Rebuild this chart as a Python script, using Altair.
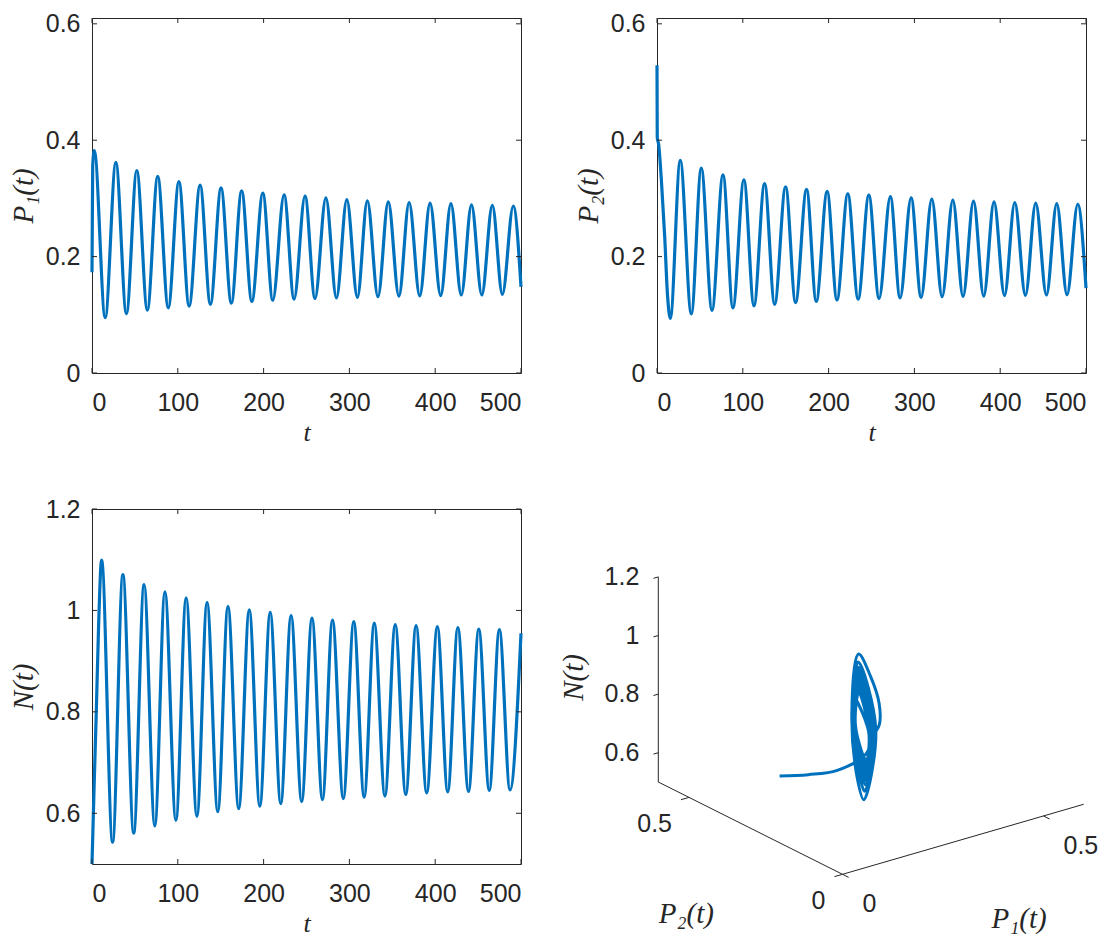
import altair as alt
import pandas as pd

# ---------------- values ----------------
t_ticks = [0, 100, 200, 300, 400, 500]
p_ticks = [0, 0.2, 0.4, 0.6]
n_ticks = [0.6, 0.8, 1.0, 1.2]

# P1(t): first points, peaks, troughs, last point
p1_head_t = [0.0, 0.8]
p1_head_v = [0.173, 0.355]
p1_peak_t = [2.7, 27.8, 52.2, 76.6, 101.3, 126.0, 150.4, 174.4, 199.1, 223.9, 248.3,
             272.6, 297.0, 320.9, 345.3, 369.6, 394.0, 418.3, 442.3, 466.6, 491.0]
p1_peak_v = [0.382, 0.362, 0.348, 0.338, 0.329, 0.323, 0.318, 0.313, 0.309, 0.306, 0.304,
             0.301, 0.298, 0.296, 0.294, 0.293, 0.292, 0.291, 0.289, 0.288, 0.287]
p1_trough_t = [15.4, 40.1, 64.5, 88.9, 113.2, 138.0, 162.4, 186.3, 210.7, 235.5,
               259.9, 284.9, 309.3, 333.3, 357.7, 382.0, 406.4, 430.4, 454.3, 478.3]
p1_trough_v = [0.095, 0.102, 0.108, 0.112, 0.115, 0.118, 0.120, 0.123, 0.125, 0.127,
               0.128, 0.129, 0.130, 0.131, 0.132, 0.1325, 0.133, 0.134, 0.134, 0.135]
p1_last = [500.0, 0.148]

# P2(t)
p2_head_t = [0.0, 0.3, 2.0, 5.0, 9.0, 12.0]
p2_head_v = [0.529, 0.405, 0.392, 0.334, 0.234, 0.140]
p2_peak_t = [27.1, 51.6, 76.9, 101.3, 125.4, 149.9, 174.3, 198.3, 222.4, 246.9,
             272.0, 296.2, 320.3, 344.8, 368.9, 392.8, 417.0, 441.4, 465.9, 490.4]
p2_peak_v = [0.3655, 0.352, 0.3405, 0.332, 0.3255, 0.320, 0.3155, 0.312, 0.308, 0.3055,
             0.303, 0.301, 0.299, 0.297, 0.2955, 0.294, 0.293, 0.292, 0.291, 0.290]
p2_trough_t = [15.5, 40.0, 64.1, 88.5, 113.0, 137.1, 161.5, 185.6, 209.7, 234.4,
               258.8, 283.3, 307.8, 332.3, 356.7, 380.8, 405.0, 429.4, 453.9, 477.9]
p2_trough_v = [0.094, 0.1015, 0.1075, 0.112, 0.1155, 0.118, 0.121, 0.123, 0.1255, 0.127,
               0.128, 0.129, 0.130, 0.131, 0.1315, 0.132, 0.133, 0.1335, 0.134, 0.1345]
p2_last = [500.0, 0.146]

# N(t)
n_head_t = [0.0, 2.5, 5.0, 7.7]
n_head_v = [0.500, 0.655, 0.800, 0.970]
n_peak_t = [11.2, 36.0, 60.7, 85.0, 109.7, 134.1, 158.5, 183.3, 207.7, 232.0,
            256.4, 280.3, 305.1, 329.0, 353.4, 377.7, 402.5, 426.4, 450.8, 474.8]
n_peak_v = [1.099, 1.0705, 1.051, 1.0365, 1.025, 1.016, 1.008, 1.001, 0.996, 0.990,
            0.985, 0.981, 0.978, 0.975, 0.972, 0.970, 0.968, 0.966, 0.963, 0.962]
n_trough_t = [24.0, 48.6, 73.2, 97.8, 122.3, 146.6, 171.0, 195.6, 220.0, 244.4,
              268.6, 292.9, 317.2, 341.4, 365.7, 390.1, 414.6, 438.8, 463.0, 487.2]
n_trough_v = [0.543, 0.561, 0.575, 0.586, 0.594, 0.603, 0.609, 0.614, 0.619, 0.623,
              0.627, 0.629, 0.632, 0.634, 0.637, 0.640, 0.642, 0.643, 0.645, 0.646]
n_last = [500.0, 0.955]

# trajectory (P1, P2, N) for the 3-D panel, in time order
phase_p1 = [0.210, 0.255, 0.300, 0.360, 0.375, 0.382, 0.320, 0.250, 0.166, 0.095, 0.176, 0.2285,
            0.362, 0.167, 0.102, 0.2398, 0.348, 0.168, 0.108, 0.2483, 0.338, 0.1685, 0.112, 0.253,
            0.329, 0.1685, 0.115, 0.2564, 0.323, 0.169, 0.118, 0.260, 0.318, 0.1695, 0.120, 0.2609,
            0.313, 0.1705, 0.123, 0.2625, 0.309, 0.171, 0.125, 0.2626, 0.306, 0.1718, 0.127, 0.2633,
            0.304, 0.172, 0.128, 0.263, 0.301, 0.172, 0.129, 0.2625, 0.298, 0.172, 0.130, 0.2628,
            0.296, 0.1723, 0.131, 0.2614, 0.294, 0.1725, 0.132, 0.2624, 0.293, 0.1726, 0.1325, 0.2617,
            0.292, 0.1728, 0.133, 0.261, 0.291, 0.1733, 0.134, 0.2596, 0.289, 0.1728, 0.134, 0.2587,
            0.288, 0.1733, 0.135, 0.2581, 0.287, 0.148]
phase_p2 = [0.480, 0.445, 0.410, 0.395, 0.390, 0.380, 0.300, 0.235, 0.165, 0.094, 0.183, 0.2298,
            0.3655, 0.1675, 0.1015, 0.2418, 0.352, 0.1686, 0.1075, 0.2496, 0.3405, 0.169, 0.112, 0.255,
            0.332, 0.1696, 0.1155, 0.2583, 0.3255, 0.170, 0.118, 0.2614, 0.320, 0.1708, 0.121, 0.263,
            0.3155, 0.171, 0.123, 0.2648, 0.312, 0.172, 0.1255, 0.2642, 0.308, 0.1723, 0.127, 0.2644,
            0.3055, 0.1724, 0.128, 0.2645, 0.303, 0.1725, 0.129, 0.2649, 0.301, 0.1728, 0.130, 0.2652,
            0.299, 0.173, 0.131, 0.2638, 0.297, 0.1729, 0.1315, 0.2643, 0.2955, 0.1729, 0.132, 0.2632,
            0.294, 0.1733, 0.133, 0.2626, 0.293, 0.1734, 0.1335, 0.2619, 0.292, 0.1735, 0.134, 0.2612,
            0.291, 0.1736, 0.1345, 0.2605, 0.290, 0.146]
phase_n = [0.500, 0.505, 0.520, 0.560, 0.620, 0.660, 0.800, 0.950, 1.099, 0.964, 0.666, 0.543,
           0.659, 1.0705, 0.943, 0.561, 0.669, 1.051, 0.932, 0.575, 0.6765, 1.0365, 0.924, 0.586,
           0.6826, 1.025, 0.917, 0.594, 0.687, 1.016, 0.913, 0.603, 0.692, 1.008, 0.908, 0.609,
           0.695, 1.001, 0.904, 0.614, 0.698, 0.996, 0.902, 0.619, 0.7006, 0.990, 0.898, 0.623,
           0.7026, 0.985, 0.8955, 0.627, 0.7049, 0.981, 0.893, 0.629, 0.7058, 0.978, 0.8915, 0.632,
           0.7075, 0.975, 0.8897, 0.634, 0.7084, 0.972, 0.8882, 0.637, 0.7103, 0.970, 0.8875, 0.640,
           0.7122, 0.968, 0.8865, 0.642, 0.7133, 0.966, 0.8852, 0.643, 0.7134, 0.963, 0.8835, 0.645,
           0.7147, 0.962, 0.883, 0.646, 0.7155, 0.955]

# 3-D box limits and ticks
P1_LIM = [0.0, 0.6]
P2_LIM = [0.0, 0.6]
N_LIM = [0.5, 1.2]
box_n_ticks = [0.6, 0.8, 1.0, 1.2]
box_n_labels = ["0.6", "0.8", "1", "1.2"]
box_p_ticks = [0.0, 0.5]
box_p_labels = ["0", "0.5"]

# ---------------- style ----------------
W, H = 429, 355
TICK = 5
BLUE = "#0072BD"
AXC = "#262626"
LFONT = "Liberation Sans"
TFONT = "Liberation Serif"
LSIZE = 25
TSIZE = 29


def series(head_t, head_v, pk_t, pk_v, tr_t, tr_v, last):
    t = list(head_t) + list(pk_t) + list(tr_t) + [last[0]]
    v = list(head_v) + list(pk_v) + list(tr_v) + [last[1]]
    return pd.DataFrame({"t": t, "v": v}).sort_values("t").reset_index(drop=True)


def ts_panel(df, ydom, yticks, ytitle):
    xs = alt.Scale(domain=[0, 500], nice=False, zero=False)
    ys = alt.Scale(domain=ydom, nice=False, zero=False)
    common = dict(ticks=False, domain=False, grid=False,
                  labelFont=LFONT, labelFontSize=LSIZE, labelColor=AXC,
                  titleFont=TFONT, titleFontStyle="italic",
                  titleFontWeight="normal", titleColor=AXC)
    xaxis = alt.Axis(values=t_ticks, format="d", title="t", labelPadding=17, titlePadding=4,
                     titleFontSize=26, **common)
    yaxis = alt.Axis(values=yticks, format="~g", title=ytitle, labelPadding=12, titlePadding=7,
                     titleFontSize=TSIZE, **common)
    xenc = alt.X("t:Q", scale=xs, axis=xaxis)
    yenc = alt.Y("v:Q", scale=ys, axis=yaxis)
    line = alt.Chart(df).mark_line(color=BLUE, strokeWidth=3.2, interpolate="monotone").encode(
        x=xenc, y=yenc)
    xt = alt.Chart(pd.DataFrame({"t": t_ticks}))
    yt = alt.Chart(pd.DataFrame({"v": yticks}))
    rule = dict(color=AXC, strokeWidth=1)
    tb = xt.mark_rule(**rule).encode(x=xenc, y=alt.value(H), y2=alt.value(H - TICK))
    tt = xt.mark_rule(**rule).encode(x=xenc, y=alt.value(0), y2=alt.value(TICK))
    tl = yt.mark_rule(**rule).encode(y=yenc, x=alt.value(0), x2=alt.value(TICK))
    tr = yt.mark_rule(**rule).encode(y=yenc, x=alt.value(W), x2=alt.value(W - TICK))
    return alt.layer(line, tb, tt, tl, tr).properties(
        width=W, height=H, view=alt.ViewBackground(stroke=AXC, strokeWidth=1))


p1_df = series(p1_head_t, p1_head_v, p1_peak_t, p1_peak_v, p1_trough_t, p1_trough_v, p1_last)
p2_df = series(p2_head_t, p2_head_v, p2_peak_t, p2_peak_v, p2_trough_t, p2_trough_v, p2_last)
n_df = series(n_head_t, n_head_v, n_peak_t, n_peak_v, n_trough_t, n_trough_v, n_last)

c1 = ts_panel(p1_df, [0, 0.61], p_ticks, "P₁(t)")
c2 = ts_panel(p2_df, [0, 0.61], p_ticks, "P₂(t)")
c3 = ts_panel(n_df, [0.5, 1.2], n_ticks, "N(t)")

# ---------------- 3-D panel (oblique view of the box) ----------------
KX1, KY1 = 402.0, 116.7     # screen pixels per unit of P1
KX2, KY2 = -307.0, 153.8    # screen pixels per unit of P2
KYN = 293.0                 # screen pixels per unit of N
X0, Y0 = -185.5, 365.3      # view window of the panel


def xexpr(a, b):
    return f"{KX1}*datum.{a} + ({KX2})*datum.{b}"


def yexpr(a, b, c):
    return f"{KY1}*datum.{a} + {KY2}*datum.{b} + {KYN}*(datum.{c} - {N_LIM[0]})"


sx = alt.Scale(domain=[X0, X0 + W], nice=False, zero=False)
sy = alt.Scale(domain=[Y0 - H, Y0], nice=False, zero=False)

traj_df = pd.DataFrame({"i": list(range(len(phase_p1))), "p1": phase_p1,
                        "p2": phase_p2, "n": phase_n})
traj = alt.Chart(traj_df).transform_calculate(
    X=xexpr("p1", "p2"), Y=yexpr("p1", "p2", "n")
).mark_line(color=BLUE, strokeWidth=3.0, interpolate="catmull-rom").encode(
    x=alt.X("X:Q", scale=sx, axis=None), y=alt.Y("Y:Q", scale=sy, axis=None),
    order=alt.Order("i:Q"))

seg = []
seg.append((0, P2_LIM[1], N_LIM[0], 0, P2_LIM[1], N_LIM[1]))
seg.append((0, 0, N_LIM[0], 0, P2_LIM[1], N_LIM[0]))
seg.append((0, 0, N_LIM[0], P1_LIM[1], 0, N_LIM[0]))
for v in box_n_ticks:
    seg.append((0, P2_LIM[1], v, -0.012, P2_LIM[1], v))
for v in box_p_ticks:
    seg.append((0, v, N_LIM[0], -0.02, v, N_LIM[0]))
    seg.append((v, 0, N_LIM[0], v, -0.02, N_LIM[0]))
seg_df = pd.DataFrame(seg, columns=["a1", "a2", "an", "b1", "b2", "bn"])
box = alt.Chart(seg_df).transform_calculate(
    Xa=xexpr("a1", "a2"), Ya=yexpr("a1", "a2", "an"),
    Xb=xexpr("b1", "b2"), Yb=yexpr("b1", "b2", "bn"),
).mark_rule(color=AXC, strokeWidth=1).encode(
    x=alt.X("Xa:Q", scale=sx, axis=None), y=alt.Y("Ya:Q", scale=sy, axis=None),
    x2="Xb:Q", y2="Yb:Q")


def label_layer(df, **kw):
    return alt.Chart(df).transform_calculate(
        X=xexpr("p1", "p2"), Y=yexpr("p1", "p2", "n")
    ).mark_text(**kw).encode(
        x=alt.X("X:Q", scale=sx, axis=None), y=alt.Y("Y:Q", scale=sy, axis=None),
        text="label:N")


lab_kw = dict(font=LFONT, fontSize=LSIZE, color=AXC)
n_lab = label_layer(pd.DataFrame({"p1": [0.0] * 4, "p2": [P2_LIM[1]] * 4, "n": box_n_ticks,
                                  "label": box_n_labels}),
                    align="right", baseline="middle", dx=-19, **lab_kw)
p2_lab = label_layer(pd.DataFrame({"p1": [0.0, 0.0], "p2": box_p_ticks, "n": [N_LIM[0]] * 2,
                                   "label": box_p_labels}),
                     align="right", baseline="middle", dx=-17, dy=27, **lab_kw)
p1_lab = label_layer(pd.DataFrame({"p1": box_p_ticks, "p2": [0.0, 0.0], "n": [N_LIM[0]] * 2,
                                   "label": box_p_labels}),
                     align="left", baseline="middle", dx=20, dy=30, **lab_kw)
tit_kw = dict(font=TFONT, fontSize=TSIZE, fontStyle="italic", color=AXC,
              align="center", baseline="middle")
# rotated text: dx runs upward, dy runs rightward
n_tit = label_layer(pd.DataFrame({"p1": [0.0], "p2": [P2_LIM[1]], "n": [0.85], "label": ["N(t)"]}),
                    angle=270, dx=2, dy=-84, **tit_kw)
p2_tit = label_layer(pd.DataFrame({"p1": [0.0], "p2": [0.3], "n": [N_LIM[0]], "label": ["P₂(t)"]}),
                     dx=-64, dy=86, **tit_kw)
p1_tit = label_layer(pd.DataFrame({"p1": [0.3], "p2": [0.0], "n": [N_LIM[0]], "label": ["P₁(t)"]}),
                     dx=56, dy=80, **tit_kw)

c4 = alt.layer(box, traj, n_lab, p2_lab, p1_lab, n_tit, p2_tit, p1_tit).properties(
    width=W, height=H, view=alt.ViewBackground(strokeOpacity=0))

chart = alt.concat(c1, c2, c3, c4, columns=2, spacing={"row": 136, "column": 136},
                   bounds="flush",
                   padding={"left": 0, "top": 3, "right": 0, "bottom": 0}
                   ).configure(background="white")

chart.save("out.html", embed_options={"renderer": "svg", "actions": False})
